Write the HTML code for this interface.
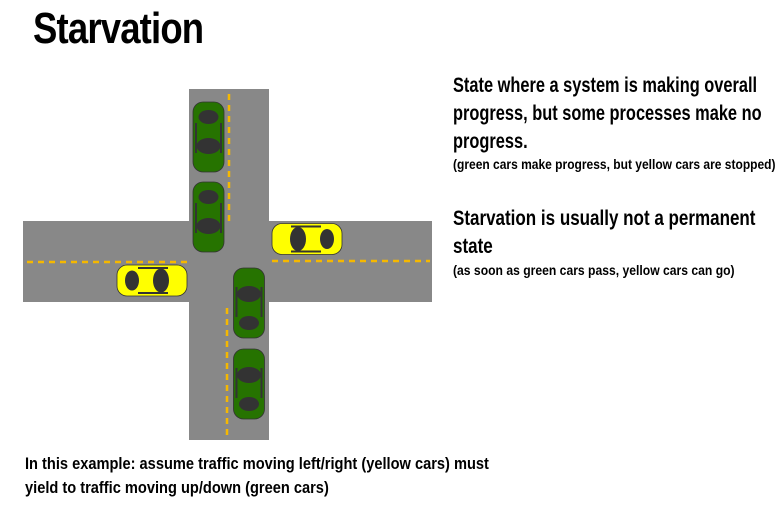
<!DOCTYPE html>
<html><head><meta charset="utf-8"><style>
body{margin:0;width:783px;height:532px;background:#fff;overflow:hidden;position:relative;font-family:"Liberation Sans Narrow","Liberation Sans",sans-serif;font-weight:bold;color:#000}
.t{position:absolute;white-space:nowrap;transform-origin:0 0}
</style></head><body>
<div class="t" style="left:33px;top:4px;font-size:44px;letter-spacing:-1px;transform:scaleX(0.83)">Starvation</div>
<div class="t" style="left:453px;top:72px;font-size:21px;line-height:28px;transform:scaleX(0.78)">State where a system is making overall<br>progress, but some processes make no<br>progress.</div>
<div class="t" style="left:453px;top:157px;font-size:13.5px;transform:scaleX(0.89)">(green cars make progress, but yellow cars are stopped)</div>
<div class="t" style="left:453px;top:205px;font-size:21px;line-height:28px;transform:scaleX(0.81)">Starvation is usually not a permanent<br>state</div>
<div class="t" style="left:453px;top:263px;font-size:13.5px;transform:scaleX(0.9)">(as soon as green cars pass, yellow cars can go)</div>
<div class="t" style="left:25px;top:452px;font-size:17px;line-height:24px;transform:scaleX(0.86)">In this example: assume traffic moving left/right (yellow cars) must<br>yield to traffic moving up/down (green cars)</div>
<svg width="783" height="532" style="position:absolute;left:0;top:0">
<defs>
<g id="car">
<rect x="-35" y="-15.5" width="70" height="31" rx="10" fill="currentColor" stroke="#333" stroke-width="0.8"/>
<ellipse cx="-20" cy="0" rx="7" ry="10" fill="#333"/>
<ellipse cx="9" cy="0" rx="8" ry="12" fill="#333"/>
<rect x="-14" y="-13.5" width="30" height="2" fill="#333"/>
<rect x="-14" y="11.5" width="30" height="2" fill="#333"/>
</g>
</defs>
<rect x="189" y="89" width="80" height="351" fill="#888"/>
<rect x="23" y="221" width="409" height="81" fill="#888"/>
<g stroke="#f5b800" stroke-width="2.5" stroke-dasharray="6,5">
<line x1="229" y1="94" x2="229" y2="224"/>
<line x1="227" y1="308" x2="227" y2="438"/>
<line x1="27" y1="262" x2="191" y2="262"/>
<line x1="272" y1="261" x2="430" y2="261"/>
</g>
<use href="#car" style="color:#267300" transform="translate(208.5,137) rotate(90)"/>
<use href="#car" style="color:#267300" transform="translate(208.5,217) rotate(90)"/>
<use href="#car" style="color:#267300" transform="translate(249,303) rotate(-90)"/>
<use href="#car" style="color:#267300" transform="translate(249,384) rotate(-90)"/>
<use href="#car" style="color:#ffff00" transform="translate(307,239) rotate(180)"/>
<use href="#car" style="color:#ffff00" transform="translate(152,280.5)"/>
</svg>
</body></html>
